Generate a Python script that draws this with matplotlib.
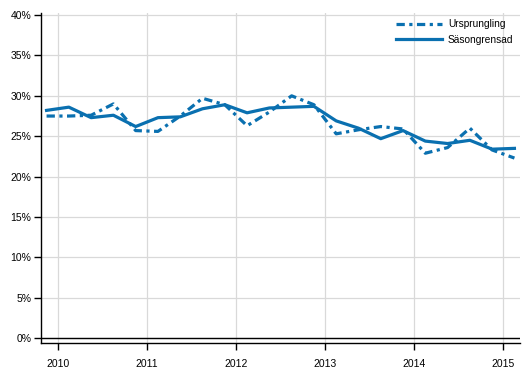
import matplotlib
matplotlib.use("Agg")
import matplotlib.pyplot as plt
from matplotlib.ticker import FuncFormatter

plt.rcParams["font.family"] = ["Liberation Sans", "DejaVu Sans"]

quarters = [f"{y}Q{q}" for y in range(2010, 2016) for q in range(1, 5)][:22]
ursprungling = [27.5, 27.5, 27.6, 29.0, 25.7, 25.6, 27.5, 29.7, 28.9, 26.3, 28.0, 30.0,
                28.9, 25.3, 25.8, 26.2, 25.9, 22.9, 23.6, 26.0, 23.3, 22.3]
sasongrensad = [28.2, 28.6, 27.3, 27.6, 26.2, 27.3, 27.4, 28.4, 28.9, 27.9, 28.5, 28.6,
                28.7, 26.9, 26.0, 24.7, 25.7, 24.4, 24.1, 24.5, 23.4, 23.5]
year_labels = ["2010", "2011", "2012", "2013", "2014", "2015"]

color = "#0a70b0"
fig = plt.figure(figsize=(5.29, 3.78), dpi=100)
ax = fig.add_axes([0.0775, 0.0918, 0.9055, 0.8738])

x = list(range(len(quarters)))
ax.plot(x, ursprungling, color=color, lw=2.3, linestyle=(0, (2.6, 1.4, 1.0, 1.4)),
        label="Ursprungling")
ax.plot(x, sasongrensad, color=color, lw=2.3, label="Säsongrensad")

ax.set_xlim(-0.25, 21.25)
ax.set_ylim(-0.62, 40.25)
ax.set_yticks(range(0, 41, 5))
ax.yaxis.set_major_formatter(FuncFormatter(lambda v, p: f"{int(v)}%"))
ax.set_xticks([0.5 + 4 * i for i in range(len(year_labels))])
ax.set_xticklabels(year_labels)

ax.grid(True, color="#d9d9d9", lw=0.9)
ax.set_axisbelow(True)
ax.axhline(0, color="black", lw=1.0, zorder=1)
for s in ["top", "right"]:
    ax.spines[s].set_visible(False)
for s in ["left", "bottom"]:
    ax.spines[s].set_color("black")
    ax.spines[s].set_linewidth(1.0)
ax.tick_params(axis="both", direction="out", length=5, width=1, labelsize=7.5, colors="black")
ax.tick_params(axis="x", pad=6)
ax.tick_params(axis="y", pad=2)

leg = ax.legend(loc="upper right", bbox_to_anchor=(1.005, 1.008), frameon=False,
                fontsize=7.3, handlelength=4.5, labelspacing=0.5, handletextpad=0.6)

fig.savefig("out.png", dpi=100)
